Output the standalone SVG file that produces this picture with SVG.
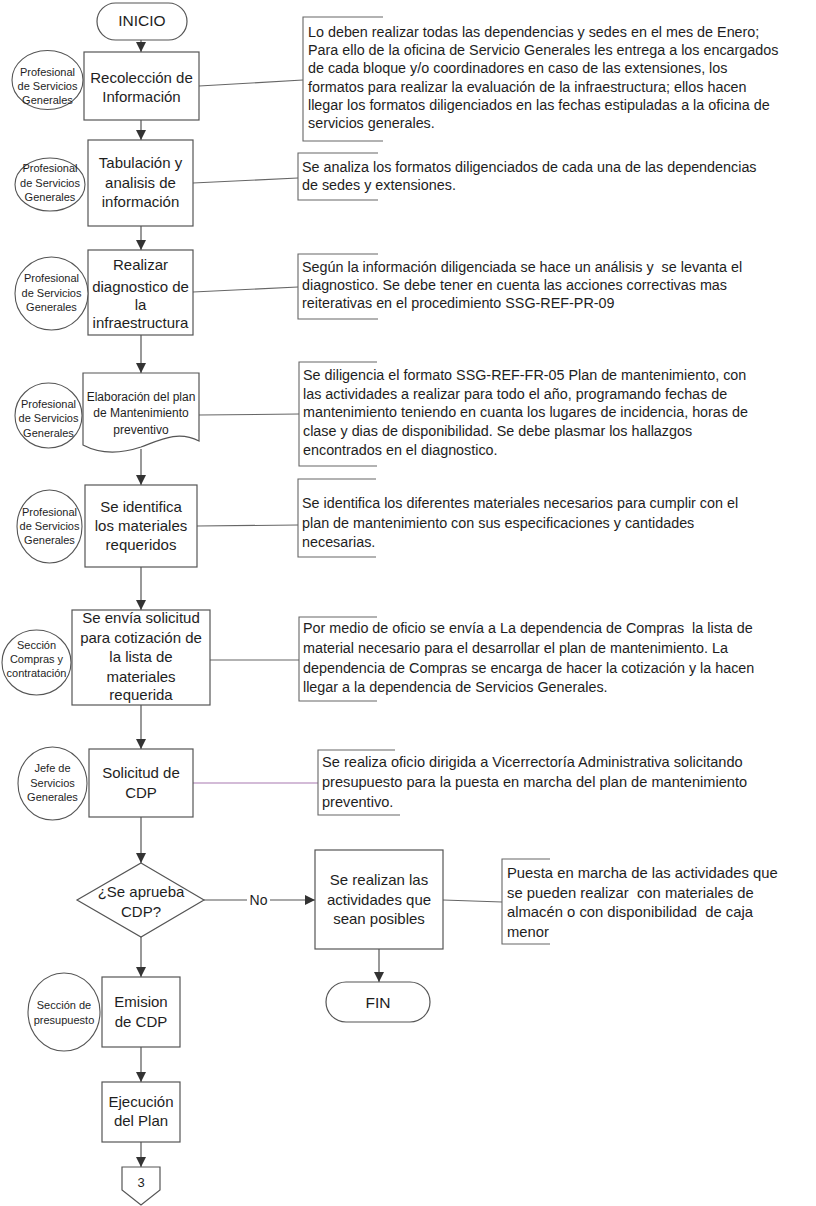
<svg xmlns="http://www.w3.org/2000/svg" width="816" height="1206" viewBox="0 0 816 1206">
  <style>
    .box { fill: #ffffff; stroke: #555555; stroke-width: 1.2; }
    .actor { fill: #ffffff; stroke: #555555; stroke-width: 1.1; }
    .line { fill: none; stroke: #555555; stroke-width: 1.2; }
    .link { fill: none; stroke: #666666; stroke-width: 1.1; }
    .link-alt { fill: none; stroke: #a878b0; stroke-width: 1.2; }
    .bracket { fill: none; stroke: #666666; stroke-width: 1.1; }
    .t { font-family: "Liberation Sans", Arial, sans-serif; fill: #1e1e1e; text-anchor: middle; }
    .step { font-size: 15px; }
    .doc { font-size: 12px; }
    .who { font-size: 11px; }
    .note { font-family: "Liberation Sans", Arial, sans-serif; fill: #1e1e1e; font-size: 14.35px; white-space: pre; }
  </style>
  <defs>
    <marker id="arr" viewBox="0 0 10 10" refX="10" refY="5" markerWidth="10" markerHeight="10" markerUnits="userSpaceOnUse" orient="auto">
      <path d="M0,0 L10,5 L0,10 z" fill="#333333"/>
    </marker>
  </defs>

  <rect width="816" height="1206" fill="#ffffff"/>

  <!-- flow connectors -->
  <g id="connectors">
    <line class="line" x1="141" y1="40" x2="141" y2="52" marker-end="url(#arr)"/>
    <line class="line" x1="141" y1="120" x2="141" y2="140" marker-end="url(#arr)"/>
    <line class="line" x1="141" y1="226" x2="141" y2="250" marker-end="url(#arr)"/>
    <line class="line" x1="141" y1="335" x2="141" y2="373" marker-end="url(#arr)"/>
    <line class="line" x1="141" y1="449" x2="141" y2="485" marker-end="url(#arr)"/>
    <line class="line" x1="141" y1="567" x2="141" y2="610" marker-end="url(#arr)"/>
    <line class="line" x1="141" y1="705" x2="141" y2="749" marker-end="url(#arr)"/>
    <line class="line" x1="141" y1="817" x2="141" y2="863" marker-end="url(#arr)"/>
    <line class="line" x1="141" y1="937" x2="141" y2="977" marker-end="url(#arr)"/>
    <line class="line" x1="141" y1="1047" x2="141" y2="1082" marker-end="url(#arr)"/>
    <line class="line" x1="141" y1="1142" x2="141" y2="1167" marker-end="url(#arr)"/>
    <!-- "No" branch -->
    <line class="line" x1="204" y1="900" x2="247" y2="900"/>
    <line class="line" x1="270" y1="900" x2="315" y2="900" marker-end="url(#arr)"/>
    <text class="t" x="258.5" y="905" style="font-size:14px">No</text>
    <line class="line" x1="379" y1="949" x2="379" y2="982" marker-end="url(#arr)"/>

    <!-- links from steps to their notes -->
    <line class="link" x1="199" y1="86" x2="303" y2="80"/>
    <line class="link" x1="193" y1="183" x2="298" y2="178"/>
    <line class="link" x1="193" y1="292" x2="298" y2="287"/>
    <line class="link" x1="199" y1="415" x2="299" y2="414"/>
    <line class="link" x1="197" y1="526" x2="298" y2="525"/>
    <line class="link" x1="210" y1="660" x2="299" y2="660"/>
    <line class="link-alt" x1="193" y1="783" x2="318" y2="783"/>
    <line class="link" x1="443" y1="900" x2="502" y2="902"/>
  </g>

  <!-- start -->
  <g id="inicio">
    <rect class="box" x="97" y="3" width="90" height="37" rx="18.5"/>
    <text class="t" x="142" y="26" style="font-size:15.5px">INICIO</text>
  </g>

  <!-- step 1 -->
  <g id="recoleccion">
    <rect class="box" x="84" y="52" width="115" height="68"/>
    <text class="t step" x="141.5" y="83">Recolección de</text>
    <text class="t step" x="141.5" y="102">Información</text>
  </g>
  <g id="actor-recoleccion">
    <ellipse class="actor" cx="47.5" cy="80" rx="35.5" ry="29.5"/>
    <text class="t who" x="47.5" y="76">Profesional</text>
    <text class="t who" x="47.5" y="90">de Servicios</text>
    <text class="t who" x="47.5" y="104">Generales</text>
  </g>
  <g id="note-recoleccion">
    <path class="bracket" d="M383,17 H303 V141 H383"/>
    <text class="note" x="308" y="37">Lo deben realizar todas las dependencias y sedes en el mes de Enero;</text>
    <text class="note" x="308" y="55">Para ello de la oficina de Servicio Generales les entrega a los encargados</text>
    <text class="note" x="308" y="73">de cada bloque y/o coordinadores en caso de las extensiones, los</text>
    <text class="note" x="308" y="92">formatos para realizar la evaluación de la infraestructura; ellos hacen</text>
    <text class="note" x="308" y="110">llegar los formatos diligenciados en las fechas estipuladas a la oficina de</text>
    <text class="note" x="308" y="128">servicios generales.</text>
  </g>

  <!-- step 2 -->
  <g id="tabulacion">
    <rect class="box" x="88" y="140" width="105" height="86"/>
    <text class="t step" x="140.5" y="168">Tabulación y</text>
    <text class="t step" x="140.5" y="188">analisis de</text>
    <text class="t step" x="140.5" y="207">información</text>
  </g>
  <g id="actor-tabulacion">
    <ellipse class="actor" cx="50" cy="184.5" rx="35" ry="26.5"/>
    <text class="t who" x="50" y="172">Profesional</text>
    <text class="t who" x="50" y="187">de Servicios</text>
    <text class="t who" x="50" y="201">Generales</text>
  </g>
  <g id="note-tabulacion">
    <path class="bracket" d="M378,153 H298 V200 H378"/>
    <text class="note" x="302" y="172">Se analiza los formatos diligenciados de cada una de las dependencias</text>
    <text class="note" x="302" y="190">de sedes y extensiones.</text>
  </g>

  <!-- step 3 -->
  <g id="diagnostico">
    <rect class="box" x="88" y="250" width="105" height="85"/>
    <text class="t step" x="140.5" y="270">Realizar</text>
    <text class="t step" x="140.5" y="292">diagnostico de</text>
    <text class="t step" x="140.5" y="310">la</text>
    <text class="t step" x="140.5" y="328">infraestructura</text>
  </g>
  <g id="actor-diagnostico">
    <ellipse class="actor" cx="51.5" cy="293.5" rx="36.5" ry="36.5"/>
    <text class="t who" x="51.5" y="282">Profesional</text>
    <text class="t who" x="51.5" y="297">de Servicios</text>
    <text class="t who" x="51.5" y="311">Generales</text>
  </g>
  <g id="note-diagnostico">
    <path class="bracket" d="M378,254 H298 V319 H378"/>
    <text class="note" x="302" y="272">Según la información diligenciada se hace un análisis y  se levanta el</text>
    <text class="note" x="302" y="290">diagnostico. Se debe tener en cuenta las acciones correctivas mas</text>
    <text class="note" x="302" y="308">reiterativas en el procedimiento SSG-REF-PR-09</text>
  </g>

  <!-- step 4: document -->
  <g id="plan">
    <path class="box" d="M83,373 H199 V441 C178,430 160,440 141,447 C120,454 100,454 83,445 Z"/>
    <text class="t doc" x="141" y="401">Elaboración del plan</text>
    <text class="t doc" x="141" y="417">de Mantenimiento</text>
    <text class="t doc" x="141" y="434">preventivo</text>
  </g>
  <g id="actor-plan">
    <ellipse class="actor" cx="48.5" cy="415.5" rx="33.5" ry="32.5"/>
    <text class="t who" x="48.5" y="408">Profesional</text>
    <text class="t who" x="48.5" y="422">de Servicios</text>
    <text class="t who" x="48.5" y="437">Generales</text>
  </g>
  <g id="note-plan">
    <path class="bracket" d="M377,362 H299 V466 H377"/>
    <text class="note" x="303" y="380">Se diligencia el formato SSG-REF-FR-05 Plan de mantenimiento, con</text>
    <text class="note" x="303" y="399">las actividades a realizar para todo el año, programando fechas de</text>
    <text class="note" x="303" y="417">mantenimiento teniendo en cuanta los lugares de incidencia, horas de</text>
    <text class="note" x="303" y="436">clase y dias de disponibilidad. Se debe plasmar los hallazgos</text>
    <text class="note" x="303" y="455">encontrados en el diagnostico.</text>
  </g>

  <!-- step 5 -->
  <g id="materiales">
    <rect class="box" x="85" y="485" width="112" height="82"/>
    <text class="t step" x="141" y="512">Se identifica</text>
    <text class="t step" x="141" y="531">los materiales</text>
    <text class="t step" x="141" y="550">requeridos</text>
  </g>
  <g id="actor-materiales">
    <ellipse class="actor" cx="49.5" cy="526.5" rx="32.5" ry="36.5"/>
    <text class="t who" x="49.5" y="516">Profesional</text>
    <text class="t who" x="49.5" y="530">de Servicios</text>
    <text class="t who" x="49.5" y="544">Generales</text>
  </g>
  <g id="note-materiales">
    <path class="bracket" d="M376,479 H298 V557 H376"/>
    <text class="note" x="302" y="508">Se identifica los diferentes materiales necesarios para cumplir con el</text>
    <text class="note" x="302" y="528">plan de mantenimiento con sus especificaciones y cantidades</text>
    <text class="note" x="302" y="547">necesarias.</text>
  </g>

  <!-- step 6 -->
  <g id="cotizacion">
    <rect class="box" x="72" y="610" width="138" height="95"/>
    <text class="t step" x="141" y="623">Se envía solicitud</text>
    <text class="t step" x="141" y="643">para cotización de</text>
    <text class="t step" x="141" y="662">la lista de</text>
    <text class="t step" x="141" y="682">materiales</text>
    <text class="t step" x="141" y="700">requerida</text>
  </g>
  <g id="actor-cotizacion">
    <ellipse class="actor" cx="36.5" cy="662.5" rx="34.5" ry="32.5"/>
    <text class="t who" x="36.5" y="649">Sección</text>
    <text class="t who" x="36.5" y="663">Compras y</text>
    <text class="t who" x="36.5" y="677">contratación</text>
  </g>
  <g id="note-cotizacion">
    <path class="bracket" d="M377,617 H299 V701 H377"/>
    <text class="note" x="303" y="633">Por medio de oficio se envía a La dependencia de Compras  la lista de</text>
    <text class="note" x="303" y="653">material necesario para el desarrollar el plan de mantenimiento. La</text>
    <text class="note" x="303" y="673">dependencia de Compras se encarga de hacer la cotización y la hacen</text>
    <text class="note" x="303" y="692">llegar a la dependencia de Servicios Generales.</text>
  </g>

  <!-- step 7 -->
  <g id="solicitud-cdp">
    <rect class="box" x="89" y="749" width="104" height="68"/>
    <text class="t step" x="141" y="778">Solicitud de</text>
    <text class="t step" x="141" y="798">CDP</text>
  </g>
  <g id="actor-solicitud">
    <ellipse class="actor" cx="52.5" cy="783.5" rx="34.5" ry="36.5"/>
    <text class="t who" x="52.5" y="772">Jefe de</text>
    <text class="t who" x="52.5" y="787">Servicios</text>
    <text class="t who" x="52.5" y="801">Generales</text>
  </g>
  <g id="note-solicitud">
    <path class="bracket" d="M395,750 H318 V815 H400"/>
    <text class="note" x="322" y="767" style="font-size:14.6px">Se realiza oficio dirigida a Vicerrectoría Administrativa solicitando</text>
    <text class="note" x="322" y="787" style="font-size:14.6px">presupuesto para la puesta en marcha del plan de mantenimiento</text>
    <text class="note" x="322" y="807" style="font-size:14.6px">preventivo.</text>
  </g>

  <!-- decision -->
  <g id="aprueba">
    <path class="box" d="M141,863 L204,900 L141,937 L77,900 Z"/>
    <text class="t step" x="141" y="897">¿Se aprueba</text>
    <text class="t step" x="141" y="917">CDP?</text>
  </g>

  <!-- "No" path -->
  <g id="posibles">
    <rect class="box" x="315" y="850" width="128" height="99"/>
    <text class="t step" x="379" y="885">Se realizan las</text>
    <text class="t step" x="379" y="905">actividades que</text>
    <text class="t step" x="379" y="924">sean posibles</text>
  </g>
  <g id="note-posibles">
    <path class="bracket" d="M550,859 H502 V944 H550"/>
    <text class="note" x="507" y="878" style="font-size:14.8px">Puesta en marcha de las actividades que</text>
    <text class="note" x="507" y="898" style="font-size:14.8px">se pueden realizar  con materiales de</text>
    <text class="note" x="507" y="917" style="font-size:14.8px">almacén o con disponibilidad  de caja</text>
    <text class="note" x="507" y="937" style="font-size:14.8px">menor</text>
  </g>
  <g id="fin">
    <rect class="box" x="326" y="982" width="104" height="40" rx="20"/>
    <text class="t" x="378" y="1008" style="font-size:15.5px">FIN</text>
  </g>

  <!-- "Sí" path -->
  <g id="emision">
    <rect class="box" x="102" y="977" width="78" height="70"/>
    <text class="t step" x="141" y="1007">Emision</text>
    <text class="t step" x="141" y="1027">de CDP</text>
  </g>
  <g id="actor-emision">
    <ellipse class="actor" cx="64" cy="1012" rx="36" ry="39"/>
    <text class="t who" x="64" y="1009">Sección de</text>
    <text class="t who" x="64" y="1024">presupuesto</text>
  </g>
  <g id="ejecucion">
    <rect class="box" x="102" y="1082" width="78" height="60"/>
    <text class="t step" x="141" y="1107">Ejecución</text>
    <text class="t step" x="141" y="1126">del Plan</text>
  </g>
  <g id="conector-3">
    <path class="box" d="M122,1167 H160 V1190 L141,1205 L122,1190 Z"/>
    <text class="t" x="141" y="1187" style="font-size:13px">3</text>
  </g>
</svg>
